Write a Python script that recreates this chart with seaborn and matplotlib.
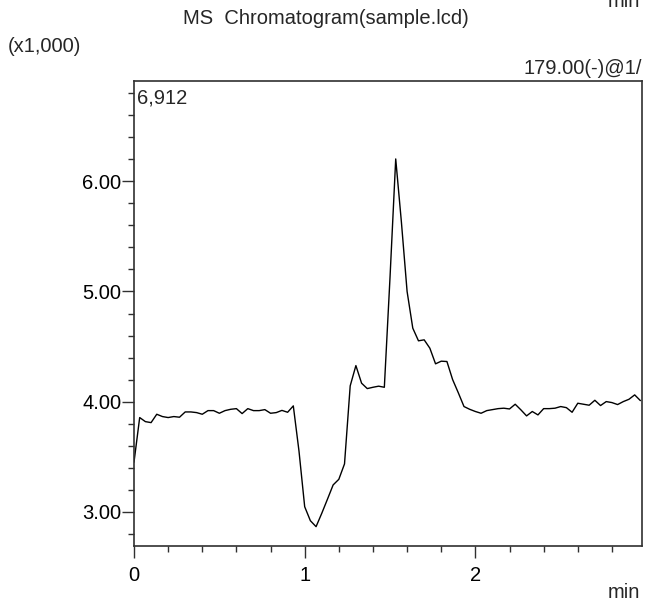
import numpy as np
import pandas as pd
import matplotlib
matplotlib.use("Agg")
import matplotlib.pyplot as plt
from matplotlib.ticker import MultipleLocator, FormatStrFormatter
import seaborn as sns

# Retention time sampling: one scan every 2 s (1/30 min)
scan_interval_min = 1.0 / 30.0

# Ion intensity (x1,000) for m/z 179.00 (-), one value per scan
intensity = [
    3.45, 3.855, 3.818, 3.809, 3.885, 3.864, 3.855, 3.864, 3.858, 3.906,
    3.906, 3.900, 3.885, 3.918, 3.918, 3.894, 3.918, 3.930, 3.936, 3.891,
    3.936, 3.918, 3.918, 3.927, 3.894, 3.900, 3.920, 3.903, 3.961, 3.550,
    3.045, 2.918, 2.864, 2.985, 3.113, 3.243, 3.294, 3.434, 4.143, 4.327,
    4.167, 4.118, 4.130, 4.140, 4.130, 5.130, 6.204, 5.630, 5.000, 4.667,
    4.552, 4.561, 4.485, 4.343, 4.367, 4.364, 4.200, 4.080, 3.955, 3.930,
    3.910, 3.894, 3.918, 3.927, 3.936, 3.940, 3.933, 3.976, 3.925, 3.870,
    3.910, 3.879, 3.936, 3.936, 3.940, 3.955, 3.945, 3.903, 3.985, 3.976,
    3.967, 4.012, 3.964, 4.000, 3.991, 3.973, 4.000, 4.021, 4.061, 4.009,
]
retention_time = [i * scan_interval_min for i in range(len(intensity))]

x_range = (0.0, 2.978)
y_range = (2.691, 6.912)
x_major_ticks = [0, 1, 2]
y_major_ticks = [3.0, 4.0, 5.0, 6.0]

title_text = "MS  Chromatogram(sample.lcd)"
scale_text = "(x1,000)"
channel_text = "179.00(-)@1/"
max_text = "6,912"
unit_text = "min"

df = pd.DataFrame({"time": retention_time, "intensity": intensity})

sns.set_style("ticks")
plt.rcParams["font.family"] = ["Liberation Sans", "DejaVu Sans"]

FS = 14.5
fig = plt.figure(figsize=(6.58, 6.06), dpi=100)
fig.patch.set_facecolor("white")
ax = fig.add_axes([134 / 658, 1 - 545.7 / 606, (642.3 - 134) / 658, (545.7 - 81) / 606])

sns.lineplot(data=df, x="time", y="intensity", ax=ax, color="black",
             linewidth=1.0, estimator=None, sort=False)

ax.set_xlim(*x_range)
ax.set_ylim(*y_range)
ax.set_xticks(x_major_ticks)
ax.set_xticklabels([str(t) for t in x_major_ticks])
ax.set_yticks(y_major_ticks)
ax.yaxis.set_major_formatter(FormatStrFormatter("%.2f"))
ax.xaxis.set_minor_locator(MultipleLocator(0.2))
ax.yaxis.set_minor_locator(MultipleLocator(0.2))
ax.set_xlabel("")
ax.set_ylabel("")

for s in ax.spines.values():
    s.set_visible(True)
    s.set_color("#303030")
    s.set_linewidth(1.2)

ax.tick_params(axis="both", which="major", direction="out", length=8.5,
               width=1.0, color="#303030", labelsize=FS, labelcolor="black")
ax.tick_params(axis="both", which="minor", direction="out", length=4,
               width=1.0, color="#303030")
ax.tick_params(axis="y", which="major", pad=0.5)
ax.tick_params(axis="x", which="major", pad=6)

# Annotations around the plot frame
fig.text(326 / 658, 1 - 19 / 606, title_text, ha="center", va="center", fontsize=FS)
fig.text(8 / 658, 1 - 47 / 606, scale_text, ha="left", va="center", fontsize=FS)
fig.text(642 / 658, 1 - 68 / 606, channel_text, ha="right", va="center", fontsize=FS)
fig.text(137 / 658, 1 - 98 / 606, max_text, ha="left", va="center", fontsize=FS)
fig.text(640 / 658, 1 - 7 / 606, unit_text, ha="right", va="baseline", fontsize=FS)
fig.text(640 / 658, 1 - 598 / 606, unit_text, ha="right", va="baseline", fontsize=FS)

fig.savefig("out.png", dpi=100, facecolor="white")
